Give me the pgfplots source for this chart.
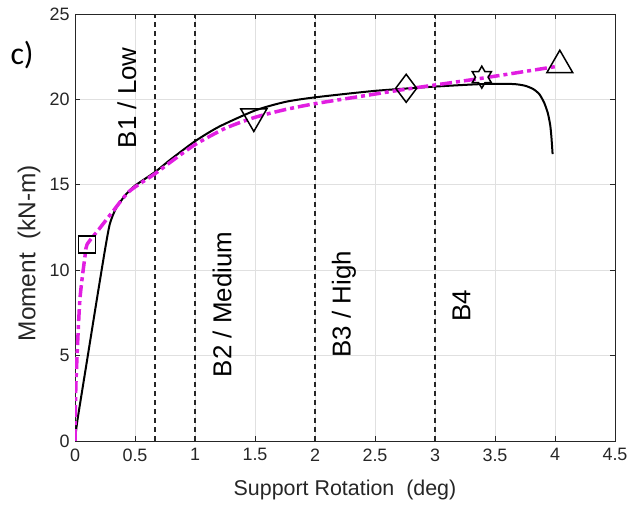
\documentclass[border=0pt]{standalone}
\usepackage{fontspec}
\setmainfont{Liberation Sans}
\newfontfamily\calib{Carlito}
\usepackage{pgfplots}
\pgfplotsset{compat=1.18}
\definecolor{mag}{RGB}{225,30,225}
\definecolor{axgray}{RGB}{38,38,38}
\pgfdeclareplotmark{hexagram}{%
  \pgfpathmoveto{\pgfpointpolar{90}{\pgfplotmarksize}}%
  \pgfpathlineto{\pgfpointpolar{120}{0.577\pgfplotmarksize}}%
  \pgfpathlineto{\pgfpointpolar{150}{\pgfplotmarksize}}%
  \pgfpathlineto{\pgfpointpolar{180}{0.577\pgfplotmarksize}}%
  \pgfpathlineto{\pgfpointpolar{210}{\pgfplotmarksize}}%
  \pgfpathlineto{\pgfpointpolar{240}{0.577\pgfplotmarksize}}%
  \pgfpathlineto{\pgfpointpolar{270}{\pgfplotmarksize}}%
  \pgfpathlineto{\pgfpointpolar{300}{0.577\pgfplotmarksize}}%
  \pgfpathlineto{\pgfpointpolar{330}{\pgfplotmarksize}}%
  \pgfpathlineto{\pgfpointpolar{0}{0.577\pgfplotmarksize}}%
  \pgfpathlineto{\pgfpointpolar{30}{\pgfplotmarksize}}%
  \pgfpathlineto{\pgfpointpolar{60}{0.577\pgfplotmarksize}}%
  \pgfpathclose\pgfusepathqstroke}
\begin{document}
\begin{tikzpicture}
\path[use as bounding box] (0,0) rectangle (634bp,507bp);
\begin{axis}[
  at={(75bp,66bp)}, anchor=south west,
  scale only axis, width=540bp, height=427bp,
  xmin=0, xmax=4.5, ymin=0, ymax=25,
  xtick={0,0.5,1,1.5,2,2.5,3,3.5,4,4.5},
  xticklabels={0,0.5,1,1.5,2,2.5,3,3.5,4,4.5},
  ytick={0,5,10,15,20,25},
  grid=major, major grid style={black!12, line width=0.7bp},
  tick align=inside, major tick length=5bp,
  axis line style={axgray, line width=0.9bp},
  tick style={axgray, line width=0.8bp},
  ticklabel style={font=\fontsize{18}{20}\selectfont, text=axgray},
  /pgf/number format/assume math mode=true,
  xticklabel style={yshift=-4bp},
  yticklabel style={xshift=-2bp},
  xlabel={Support Rotation\ \ (deg)},
  xlabel style={font=\fontsize{21.5}{24}\selectfont, text=axgray, at={(axis description cs:0.5,-0.115)}, anchor=center},
  ylabel={Moment\ \ (kN-m)},
  ylabel style={font=\fontsize{24.5}{27}\selectfont, text=axgray, at={(axis description cs:-0.085,0.44)}, anchor=center, rotate=0},
  clip mode=individual,
]
% boundary lines
\addplot[black!85, line width=1.2bp, dash pattern=on 5bp off 4bp] coordinates {(0.667,0) (0.667,25)};
\addplot[black!85, line width=1.2bp, dash pattern=on 5bp off 4bp] coordinates {(1,0) (1,25)};
\addplot[black!85, line width=1.2bp, dash pattern=on 5bp off 4bp] coordinates {(2,0) (2,25)};
\addplot[black!85, line width=1.2bp, dash pattern=on 5bp off 4bp] coordinates {(3,0) (3,25)};
% experimental
\addplot[black, line width=2bp, smooth, tension=0.4] coordinates {
(0,0) (0.02,1.2) (0.1,4.7) (0.18,8.2) (0.25,11.2) (0.29,12.7) (0.34,13.6) (0.42,14.4)
(0.5,14.95) (0.667,15.75) (0.8,16.5) (1.0,17.55) (1.2,18.4) (1.5,19.35) (1.75,19.85)
(2.0,20.12) (2.5,20.5) (3.0,20.75) (3.4,20.9) (3.65,20.9) (3.75,20.8) (3.82,20.6)
(3.87,20.3) (3.91,19.8) (3.94,19.2) (3.96,18.5) (3.97,17.8) (3.98,16.8)};
% model
\addplot[mag, line width=3.5bp, dash pattern=on 12bp off 4bp on 4bp off 4bp, smooth, tension=0.4] coordinates {
(0,0) (0.008,3.4) (0.04,8.2) (0.083,10.8) (0.1,11.5) (0.2,12.4) (0.3,13.3) (0.45,14.6)
(0.667,15.65) (0.8,16.35) (1.0,17.35) (1.25,18.3) (1.5,18.95) (1.75,19.4) (2.0,19.75)
(2.4,20.2) (2.76,20.6) (3.4,21.25) (4.03,21.95)};
% markers
\addplot[only marks, mark=square, mark size=8.5bp, black, mark options={line width=1.5bp}] coordinates {(0.1,11.5)};
\addplot[only marks, mark=triangle, mark size=15bp, black, mark options={line width=1.5bp, rotate=180}] coordinates {(1.49,19.0)};
\addplot[only marks, mark=diamond, mark size=14bp, black, mark options={line width=1.5bp}] coordinates {(2.76,20.65)};
\addplot[only marks, mark=hexagram, mark size=11bp, black, mark options={line width=1.5bp}] coordinates {(3.39,21.3)};
\addplot[only marks, mark=triangle, mark size=15bp, black, mark options={line width=1.5bp}] coordinates {(4.04,22.0)};
% texts
\node[rotate=90, font=\fontsize{26}{28}\selectfont, text=black, anchor=center] at (axis cs:0.433,20.1) {B1 / Low};
\node[rotate=90, font=\fontsize{26}{28}\selectfont, text=black, anchor=center] at (axis cs:1.225,8.0) {B2 / Medium};
\node[rotate=90, font=\fontsize{26}{28}\selectfont, text=black, anchor=center] at (axis cs:2.24,8.0) {B3 / High};
\node[rotate=90, font=\fontsize{26}{28}\selectfont, text=black, anchor=center] at (axis cs:3.22,7.9) {B4};
\node[font=\calib\fontsize{32}{34}\selectfont, text=black, anchor=center] at (axis description cs:-0.098,0.905) {c)};
\end{axis}
\end{tikzpicture}
\end{document}
